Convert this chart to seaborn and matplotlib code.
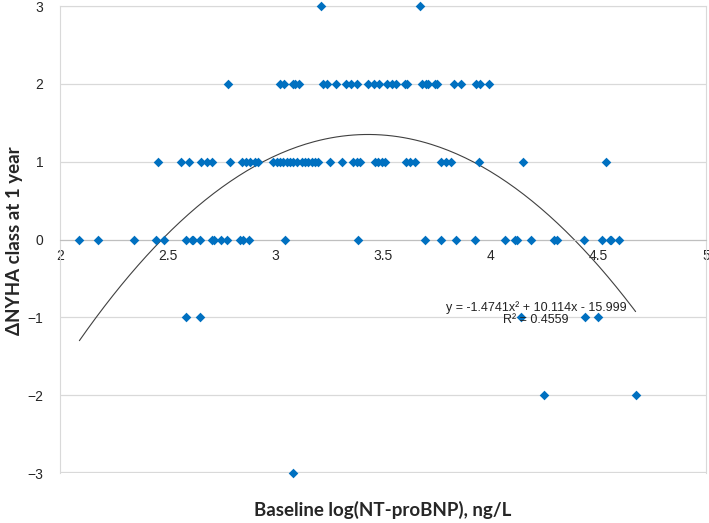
# Import numpy, pandas, matplotlib and seaborn
import numpy as np
import pandas as pd
import matplotlib
matplotlib.use("Agg")
import matplotlib.pyplot as plt
import seaborn as sns

# Baseline log(NT-proBNP) values for each change in NYHA class
x_plus3 = [3.21, 3.67]
x_plus2 = [2.78, 3.02, 3.04, 3.08, 3.09, 3.11, 3.22, 3.24, 3.28, 3.33, 3.35, 3.38,
           3.43, 3.46, 3.48, 3.52, 3.54, 3.56, 3.60, 3.61, 3.68, 3.70, 3.71, 3.74,
           3.75, 3.83, 3.86, 3.93, 3.95, 3.99]
x_plus1 = [2.456, 2.560, 2.599, 2.657, 2.682, 2.705, 2.789, 2.845, 2.863, 2.882,
           2.905, 2.921, 2.988, 3.006, 3.021, 3.036, 3.052, 3.067, 3.083, 3.100,
           3.124, 3.137, 3.152, 3.168, 3.183, 3.196, 3.255, 3.309, 3.361, 3.377,
           3.392, 3.462, 3.477, 3.496, 3.511, 3.606, 3.624, 3.647, 3.771, 3.794,
           3.814, 3.946, 4.150, 4.534]
x_zero = [2.090, 2.175, 2.343, 2.444, 2.483, 2.583, 2.611, 2.619, 2.650, 2.704,
          2.715, 2.750, 2.774, 2.835, 2.851, 2.877, 3.044, 3.384, 3.697, 3.771,
          3.838, 3.929, 4.065, 4.111, 4.122, 4.189, 4.292, 4.310, 4.432, 4.518,
          4.552, 4.560, 4.594]
x_minus1 = [2.583, 2.650, 4.142, 4.436, 4.498]
x_minus2 = [4.247, 4.673]
x_minus3 = [3.083]

# Trendline coefficients shown on the chart
coef_a, coef_b, coef_c = -1.4741, 10.114, -15.999
r_squared = 0.4559

# Build one table from the groups
groups = [(3, x_plus3), (2, x_plus2), (1, x_plus1), (0, x_zero),
          (-1, x_minus1), (-2, x_minus2), (-3, x_minus3)]
df = pd.DataFrame(
    [(x, dy) for dy, xs in groups for x in xs],
    columns=["ntprobnp", "delta_nyha"]
)

# Plain white style
sns.set_style("white")
plt.rcParams['font.family'] = ['Liberation Sans', 'DejaVu Sans']

# Figure sized to the reference picture
fig = plt.figure(figsize=(7.09, 5.23), dpi=100)
ax = fig.add_axes([0.0846, 0.0956, 0.9112, 0.8929])

# Scatter of patients as blue diamonds (not clipped at the frame)
sns.scatterplot(data=df, x="ntprobnp", y="delta_nyha", marker="D", s=24,
                color="#0070C0", edgecolor="#0070C0", linewidth=0, ax=ax,
                zorder=3, clip_on=False)

# Quadratic trendline over the data range
xs = np.linspace(df["ntprobnp"].min(), df["ntprobnp"].max(), 200)
ax.plot(xs, coef_a * xs ** 2 + coef_b * xs + coef_c, color="#404040",
        linewidth=0.8, zorder=2)

# Trendline equation and R squared
ax.text(4.21, -0.87, "y = -1.4741x\u00b2 + 10.114x - 15.999", ha="center",
        va="center", fontsize=9, color="#222222")
ax.text(4.21, -1.04, "R\u00b2 = " + str(r_squared), ha="center", va="center",
        fontsize=9, color="#222222")

# Axis limits and ticks
ax.set_xlim(2, 5)
ax.set_ylim(-3, 3)
ax.set_xticks([2, 2.5, 3, 3.5, 4, 4.5, 5])
ax.set_xticklabels(["2", "2.5", "3", "3.5", "4", "4.5", "5"])
ax.set_yticks([-3, -2, -1, 0, 1, 2, 3])
ax.tick_params(axis="x", length=4, width=0.8, color="#BFBFBF", labelsize=10,
               pad=3, direction="out", labelcolor="#262626")
ax.tick_params(axis="y", length=0, labelsize=10, pad=12, labelcolor="#262626")

# Horizontal gridlines only
ax.grid(axis="y", color="#D9D9D9", linewidth=0.9)
ax.set_axisbelow(True)

# Horizontal axis crosses at zero, light frame around the plot area
ax.spines["bottom"].set_position(("data", 0))
ax.spines["bottom"].set_color("#BFBFBF")
for side in ["left", "right", "top"]:
    ax.spines[side].set_color("#D9D9D9")
ax.axhline(-3, color="#D9D9D9", linewidth=1.6, zorder=1)

# Axis titles in bold
ax.set_xlabel("")
ax.set_ylabel("")
fig.text(0.54, 0.025, "Baseline log(NT-proBNP), ng/L", ha="center",
         va="center", fontsize=13.5, fontweight="bold", family="Lato")
fig.text(0.02, 0.54, "\u0394NYHA class at 1 year", ha="center", va="center",
         rotation=90, fontsize=13.5, fontweight="bold", family="Lato")

# Save the chart
fig.savefig("out.png", dpi=100)
